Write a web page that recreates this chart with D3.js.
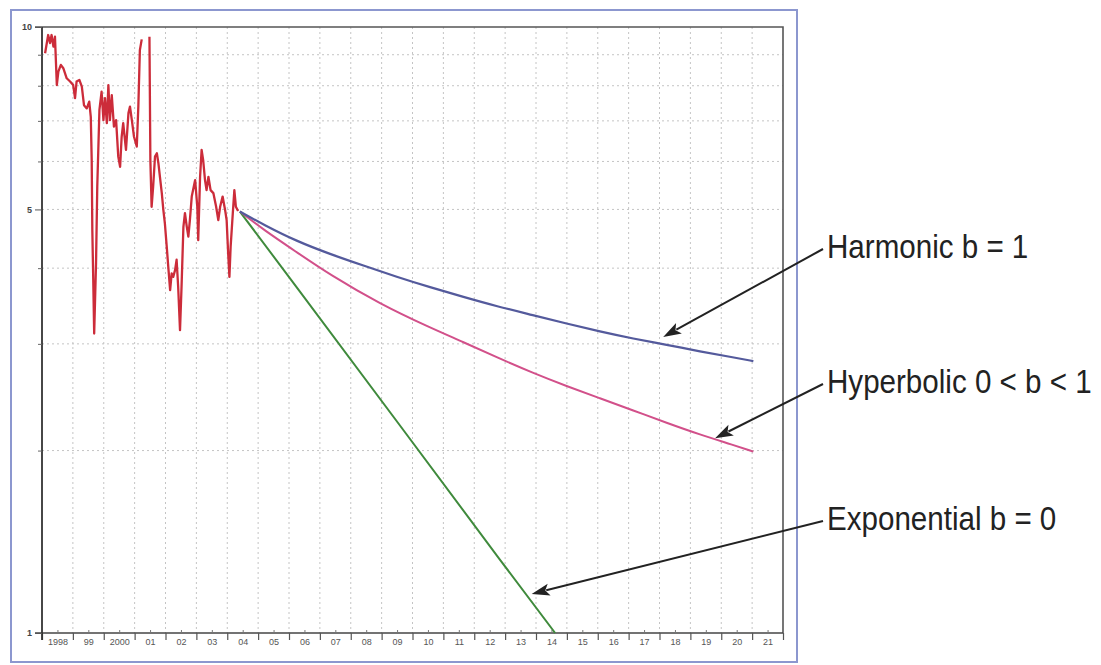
<!DOCTYPE html>
<html>
<head>
<meta charset="utf-8">
<script src="https://cdn.jsdelivr.net/npm/d3@7"></script>
<style>
  html, body { margin: 0; padding: 0; background: #fff; }
  svg { display: block; }
  text { font-family: "Liberation Sans", Arial, sans-serif; }
</style>
</head>
<body>
<svg id="chart" width="1101" height="665"></svg>
<script>
// Monthly production history (null marks missing months)
const historyYears = [1998.10,1998.20,1998.26,1998.31,1998.37,1998.42,1998.48,1998.53,1998.61,1998.69,1998.80,1998.91,
  1999.01,1999.07,1999.12,1999.21,1999.29,1999.36,1999.45,1999.53,1999.58,1999.61,1999.63,1999.66,1999.69,1999.75,1999.79,1999.86,1999.93,1999.99,
  2000.04,2000.10,2000.15,2000.20,2000.26,2000.33,2000.40,2000.47,2000.53,2000.58,2000.63,2000.72,2000.80,2000.85,2000.91,2000.98,
  2001.07,2001.12,2001.17,2001.23,2001.35,2001.48,2001.51,2001.55,2001.60,2001.66,2001.72,2001.77,2001.82,2001.88,2001.93,2001.98,
  2002.04,2002.09,2002.15,2002.20,2002.25,2002.31,2002.36,2002.41,2002.47,2002.52,2002.58,2002.63,2002.69,2002.74,2002.79,2002.85,2002.96,
  2003.03,2003.06,2003.12,2003.17,2003.22,2003.28,2003.33,2003.39,2003.46,2003.55,2003.64,2003.71,2003.77,2003.85,2003.93,2003.98,
  2004.03,2004.07,2004.11,2004.18,2004.23,2004.28,2004.35];
const historyValues = [9.05,9.70,9.41,9.70,9.28,9.64,8.02,8.44,8.66,8.55,8.23,8.13,
  8.02,7.63,8.13,8.18,7.97,7.43,7.34,7.53,7.11,6.03,4.62,3.82,3.12,4.07,5.45,7.30,7.82,7.02,
  7.63,6.94,8.02,7.02,7.72,6.85,7.02,6.11,5.88,6.59,6.94,6.27,7.21,7.39,7.02,6.59,
  6.35,7.39,9.16,9.54,null,9.64,6.03,5.05,5.45,6.11,6.19,5.96,5.66,5.32,4.99,4.74,
  4.34,4.02,3.68,3.92,3.87,3.97,4.13,3.73,3.16,3.73,4.68,4.93,4.68,4.51,4.80,5.25,5.59,
  5.05,4.45,5.66,6.27,6.03,5.59,5.38,5.66,5.38,5.32,5.05,4.80,5.05,5.25,4.99,4.80,
  4.23,3.87,4.34,4.93,5.38,5.05,4.97];

// Decline forecasts
const harmonicYears  = [2004.41,2005.17,2006.25,2007.33,2008.41,2009.49,2010.57,2011.65,2012.73,2013.91,2014.99,2016.07,2017.15,2018.23,2019.31,2020.39,2021.04];
const harmonicValues = [4.96,4.72,4.43,4.22,4.04,3.87,3.72,3.585,3.46,3.345,3.24,3.145,3.06,2.99,2.915,2.85,2.81];

const hyperbolicYears  = [2004.41,2005.17,2006.25,2007.33,2008.95,2010.57,2011.65,2012.73,2013.91,2014.99,2016.07,2017.15,2018.23,2019.31,2020.39,2021.04];
const hyperbolicValues = [4.96,4.63,4.25,3.90,3.49,3.19,3.02,2.85,2.685,2.555,2.44,2.33,2.222,2.125,2.043,1.992];

const exponentialYears  = [2004.41,2006.36,2009.60,2012.83,2014.62];
const exponentialValues = [4.96,3.655,2.198,1.322,1.0];

// Axis ticks
const yearBoundaries = d3.range(1998, 2023);
const yearLabels = ["1998","99","2000","01","02","03","04","05","06","07","08","09","10",
  "11","12","13","14","15","16","17","18","19","20","21"];
const yLabelTicks = [1, 5, 10];
const yMinorTicks = [2, 3, 4, 6, 7, 8, 9];

// Annotation labels and the points their arrows reach
const annotationText = ["Harmonic b = 1", "Hyperbolic 0 < b < 1", "Exponential b = 0"];
const annotationTipYear = [2018.12, 2019.80, 2013.86];
const annotationTipValue = [3.08, 2.096, 1.16];

const svg = d3.select("#chart");
const plot = { left: 42, right: 783, top: 27, bottom: 633 };

const x = d3.scaleLinear().domain([1998, 2022]).range([plot.left, plot.right]);
const y = d3.scaleLog().domain([1, 10]).range([plot.bottom, plot.top]);

// Outer frame
svg.append("rect")
  .attr("x", 11).attr("y", 10).attr("width", 786).attr("height", 652)
  .attr("fill", "none").attr("stroke", "#8c97cf").attr("stroke-width", 2);

// Grid
const grid = svg.append("g").attr("stroke", "#c4c4c4").attr("stroke-width", 1)
  .attr("stroke-dasharray", "2,3");
grid.selectAll("line.h").data(yMinorTicks).join("line")
  .attr("x1", plot.left).attr("x2", plot.right)
  .attr("y1", d => y(d)).attr("y2", d => y(d));
grid.selectAll("line.v").data(yearBoundaries.filter(d => d > 1998 && d < 2022)).join("line")
  .attr("y1", plot.top).attr("y2", plot.bottom)
  .attr("x1", d => x(d)).attr("x2", d => x(d));
grid.append("line")
  .attr("x1", plot.left).attr("x2", plot.right)
  .attr("y1", y(5)).attr("y2", y(5));

// Plot border (top and right)
svg.append("path")
  .attr("d", `M${plot.left - 7},${plot.top}H${plot.right}V${plot.bottom}`)
  .attr("fill", "none").attr("stroke", "#555").attr("stroke-width", 1.6);

// Bottom axis: ticks at year boundaries, labels mid-year
const xAxis = svg.append("g").attr("transform", `translate(0,${plot.bottom})`)
  .call(d3.axisBottom(x).tickValues(yearBoundaries).tickSize(7).tickFormat(""));
xAxis.select(".domain").attr("stroke", "#444").attr("stroke-width", 1.6)
  .attr("d", `M${plot.left - 7},0H${plot.right}`);
xAxis.selectAll(".tick line").attr("stroke", "#555").attr("stroke-width", 1.2);

const xMinor = svg.append("g").attr("transform", `translate(0,${plot.bottom})`)
  .call(d3.axisTop(x).tickValues(d3.range(1998.5, 2022, 1)).tickSize(3).tickFormat(""));
xMinor.select(".domain").remove();
xMinor.selectAll(".tick line").attr("stroke", "#777");

const xLabels = svg.append("g").attr("transform", `translate(0,${plot.bottom})`)
  .call(d3.axisBottom(x).tickValues(d3.range(1998.5, 2022, 1)).tickSize(0)
    .tickFormat((d, i) => yearLabels[i]));
xLabels.select(".domain").remove();
xLabels.selectAll("text").attr("font-size", 9).attr("fill", "#555").attr("dy", "0.95em")
  .attr("font-family", "'Liberation Sans', Arial, sans-serif");

// Left axis (log)
const yAxis = svg.append("g").attr("transform", `translate(${plot.left},0)`)
  .call(d3.axisLeft(y).tickValues(yLabelTicks).tickSize(7).tickFormat(d3.format("d")));
yAxis.select(".domain").attr("stroke", "#333").attr("stroke-width", 1.8)
  .attr("d", `M0,${plot.top}V${plot.bottom + 7}`);
yAxis.selectAll(".tick line").attr("stroke", "#555");
yAxis.selectAll("text").attr("font-size", 9).attr("font-weight", "bold").attr("fill", "#444")
  .attr("x", -10).attr("font-family", "'Liberation Sans', Arial, sans-serif");
const yMinor = svg.append("g").attr("transform", `translate(${plot.left},0)`)
  .call(d3.axisLeft(y).tickValues(yMinorTicks).tickSize(4).tickFormat(""));
yMinor.select(".domain").remove();
yMinor.selectAll(".tick line").attr("stroke", "#666");

// Series
const lineGen = d3.line()
  .defined(d => d[1] != null)
  .x(d => x(d[0])).y(d => y(d[1]));
const smoothGen = d3.line().curve(d3.curveBasis)
  .x(d => x(d[0])).y(d => y(d[1]));

const zip = (a, b) => a.map((v, i) => [v, b[i]]);

svg.append("path").datum(zip(exponentialYears, exponentialValues))
  .attr("d", lineGen).attr("fill", "none").attr("stroke", "#3f8a3c").attr("stroke-width", 2);
svg.append("path").datum(zip(hyperbolicYears, hyperbolicValues))
  .attr("d", smoothGen).attr("fill", "none").attr("stroke", "#d2508a").attr("stroke-width", 2);
svg.append("path").datum(zip(harmonicYears, harmonicValues))
  .attr("d", smoothGen).attr("fill", "none").attr("stroke", "#545a9c").attr("stroke-width", 2.2);
svg.append("path").datum(zip(historyYears, historyValues))
  .attr("d", lineGen).attr("fill", "none").attr("stroke", "#cc2c3a").attr("stroke-width", 2.3)
  .attr("stroke-linejoin", "round");

// Annotations with arrows (heads drawn as filled triangles along each line's direction)
const headLen = 18, headHalf = 6;
const labelX = 827;
const labelBaseline = [258, 393, 530];
const anno = svg.append("g");
annotationText.forEach((t, i) => {
  const x1 = labelX - 4, y1 = labelBaseline[i] - 9;
  const x2 = x(annotationTipYear[i]), y2 = y(annotationTipValue[i]);
  const len = Math.hypot(x2 - x1, y2 - y1);
  const ux = (x2 - x1) / len, uy = (y2 - y1) / len;
  const bx = x2 - ux * headLen, by = y2 - uy * headLen;
  anno.append("line")
    .attr("x1", x1).attr("y1", y1)
    .attr("x2", bx + ux * 3).attr("y2", by + uy * 3)
    .attr("stroke", "#222").attr("stroke-width", 2);
  anno.append("path")
    .attr("d", `M${x2},${y2}L${bx - uy * headHalf},${by + ux * headHalf}` +
      `L${bx + ux * 4},${by + uy * 4}L${bx + uy * headHalf},${by - ux * headHalf}Z`)
    .attr("fill", "#222");
  anno.append("text")
    .attr("transform", `translate(${labelX},${labelBaseline[i]}) scale(0.91,1)`)
    .attr("font-size", 32.5).attr("fill", "#222")
    .text(t);
});
</script>
</body>
</html>
